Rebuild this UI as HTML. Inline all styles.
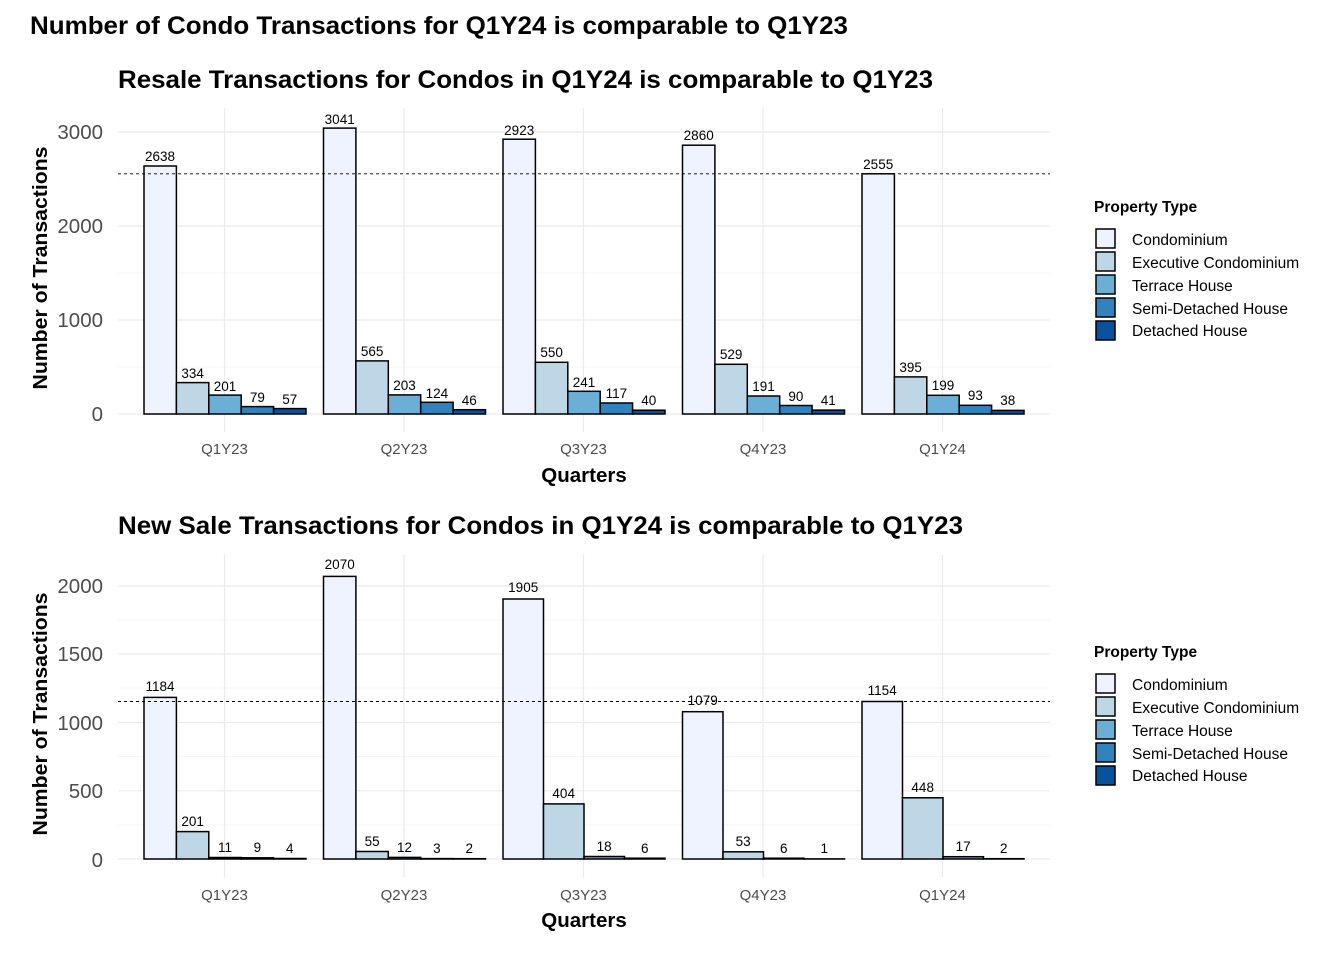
<!DOCTYPE html>
<html><head><meta charset="utf-8"><style>
body{margin:0;background:#fff}
svg{display:block;font-family:"Liberation Sans",Arial,sans-serif}
.g{stroke:#ebebeb;stroke-width:1.2}
.gm{stroke:#f3f3f3;stroke-width:0.8}
.b{stroke:#000;stroke-width:1.5}
.yl{font-size:20.5px;fill:#4d4d4d;text-anchor:end}
.xl{font-size:15px;fill:#4d4d4d;text-anchor:middle}
.v{font-size:13.5px;fill:#000;text-anchor:middle}
.t{font-size:25px;font-weight:bold}
.at{font-size:20.5px;font-weight:bold;text-anchor:middle}
.lg{font-size:15.5px;fill:#000}
</style></head><body>
<svg width="1344" height="960" viewBox="0 0 1344 960">
<text x="30" y="34" class="t" textLength="818" lengthAdjust="spacingAndGlyphs">Number of Condo Transactions for Q1Y24 is comparable to Q1Y23</text>

<!-- TOP PANEL -->
<text x="118" y="88" class="t" textLength="815" lengthAdjust="spacingAndGlyphs">Resale Transactions for Condos in Q1Y24 is comparable to Q1Y23</text>
<g>
<line class="gm" x1="118" x2="1050" y1="367" y2="367"/><line class="gm" x1="118" x2="1050" y1="273" y2="273"/><line class="gm" x1="118" x2="1050" y1="179" y2="179"/>
<line class="g" x1="118" x2="1050" y1="414" y2="414"/><line class="g" x1="118" x2="1050" y1="320" y2="320"/><line class="g" x1="118" x2="1050" y1="226" y2="226"/><line class="g" x1="118" x2="1050" y1="132" y2="132"/>
<line class="g" x1="224.5" x2="224.5" y1="108" y2="432"/><line class="g" x1="404" x2="404" y1="108" y2="432"/><line class="g" x1="583.5" x2="583.5" y1="108" y2="432"/><line class="g" x1="763" x2="763" y1="108" y2="432"/><line class="g" x1="942.5" x2="942.5" y1="108" y2="432"/>
</g>
<g class="b">
<rect x="144" y="166" width="32.4" height="248" fill="#EFF3FF"/><rect x="176.4" y="382.6" width="32.4" height="31.4" fill="#BDD7E7"/><rect x="208.8" y="395.1" width="32.4" height="18.9" fill="#6BAED6"/><rect x="241.2" y="406.6" width="32.4" height="7.4" fill="#3182BD"/><rect x="273.6" y="408.6" width="32.4" height="5.4" fill="#08519C"/>
<rect x="323.5" y="128.1" width="32.4" height="285.9" fill="#EFF3FF"/><rect x="355.9" y="360.9" width="32.4" height="53.1" fill="#BDD7E7"/><rect x="388.3" y="394.9" width="32.4" height="19.1" fill="#6BAED6"/><rect x="420.7" y="402.3" width="32.4" height="11.7" fill="#3182BD"/><rect x="453.1" y="409.7" width="32.4" height="4.3" fill="#08519C"/>
<rect x="503" y="139.2" width="32.4" height="274.8" fill="#EFF3FF"/><rect x="535.4" y="362.3" width="32.4" height="51.7" fill="#BDD7E7"/><rect x="567.8" y="391.3" width="32.4" height="22.7" fill="#6BAED6"/><rect x="600.2" y="403" width="32.4" height="11" fill="#3182BD"/><rect x="632.6" y="410.2" width="32.4" height="3.8" fill="#08519C"/>
<rect x="682.5" y="145.2" width="32.4" height="268.8" fill="#EFF3FF"/><rect x="714.9" y="364.3" width="32.4" height="49.7" fill="#BDD7E7"/><rect x="747.3" y="396" width="32.4" height="18" fill="#6BAED6"/><rect x="779.7" y="405.5" width="32.4" height="8.5" fill="#3182BD"/><rect x="812.1" y="410.1" width="32.4" height="3.9" fill="#08519C"/>
<rect x="862" y="173.8" width="32.4" height="240.2" fill="#EFF3FF"/><rect x="894.4" y="376.9" width="32.4" height="37.1" fill="#BDD7E7"/><rect x="926.8" y="395.3" width="32.4" height="18.7" fill="#6BAED6"/><rect x="959.2" y="405.3" width="32.4" height="8.7" fill="#3182BD"/><rect x="991.6" y="410.4" width="32.4" height="3.6" fill="#08519C"/>
</g>
<line x1="118" x2="1050" y1="173.8" y2="173.8" stroke="#000" stroke-width="0.9" stroke-dasharray="3,3"/>
<g class="v">
<text x="160" y="161">2638</text><text x="192.6" y="378">334</text><text x="225" y="391">201</text><text x="257.4" y="402">79</text><text x="289.8" y="404">57</text>
<text x="339.7" y="124">3041</text><text x="372.1" y="356">565</text><text x="404.5" y="390">203</text><text x="436.9" y="398">124</text><text x="469.3" y="405">46</text>
<text x="519.2" y="135">2923</text><text x="551.6" y="357">550</text><text x="584" y="387">241</text><text x="616.4" y="398">117</text><text x="648.8" y="405">40</text>
<text x="698.7" y="140">2860</text><text x="731.1" y="359">529</text><text x="763.5" y="391">191</text><text x="795.9" y="401">90</text><text x="828.3" y="405">41</text>
<text x="878.2" y="169">2555</text><text x="910.6" y="372">395</text><text x="943" y="390">199</text><text x="975.4" y="400">93</text><text x="1007.8" y="405">38</text>
</g>
<g class="yl"><text x="103" y="421">0</text><text x="103" y="327">1000</text><text x="103" y="233">2000</text><text x="103" y="139">3000</text></g>
<g class="xl"><text x="224.5" y="454">Q1Y23</text><text x="404" y="454">Q2Y23</text><text x="583.5" y="454">Q3Y23</text><text x="763" y="454">Q4Y23</text><text x="942.5" y="454">Q1Y24</text></g>
<text x="584" y="482" class="at">Quarters</text>
<text transform="translate(47,268) rotate(-90)" class="at" textLength="243" lengthAdjust="spacingAndGlyphs">Number of Transactions</text>

<!-- BOTTOM PANEL -->
<text x="118" y="534" class="t" textLength="845" lengthAdjust="spacingAndGlyphs">New Sale Transactions for Condos in Q1Y24 is comparable to Q1Y23</text>
<g>
<line class="gm" x1="118" x2="1050" y1="825" y2="825"/><line class="gm" x1="118" x2="1050" y1="756.6" y2="756.6"/><line class="gm" x1="118" x2="1050" y1="688" y2="688"/><line class="gm" x1="118" x2="1050" y1="620" y2="620"/>
<line class="g" x1="118" x2="1050" y1="859" y2="859"/><line class="g" x1="118" x2="1050" y1="790.8" y2="790.8"/><line class="g" x1="118" x2="1050" y1="722.5" y2="722.5"/><line class="g" x1="118" x2="1050" y1="654" y2="654"/><line class="g" x1="118" x2="1050" y1="586" y2="586"/>
<line class="g" x1="224.5" x2="224.5" y1="555" y2="877"/><line class="g" x1="404" x2="404" y1="555" y2="877"/><line class="g" x1="583.5" x2="583.5" y1="555" y2="877"/><line class="g" x1="763" x2="763" y1="555" y2="877"/><line class="g" x1="942.5" x2="942.5" y1="555" y2="877"/>
</g>
<g class="b">
<rect x="144" y="697.4" width="32.4" height="161.6" fill="#EFF3FF"/><rect x="176.4" y="831.6" width="32.4" height="27.4" fill="#BDD7E7"/><rect x="208.8" y="857.5" width="32.4" height="1.5" fill="#6BAED6"/><rect x="241.2" y="857.8" width="32.4" height="1.2" fill="#3182BD"/><rect x="273.6" y="858.5" width="32.4" height="0.5" fill="#08519C"/>
<rect x="323.5" y="576.4" width="32.4" height="282.6" fill="#EFF3FF"/><rect x="355.9" y="851.5" width="32.4" height="7.5" fill="#BDD7E7"/><rect x="388.3" y="857.4" width="32.4" height="1.6" fill="#6BAED6"/><rect x="420.7" y="858.6" width="32.4" height="0.4" fill="#3182BD"/><rect x="453.1" y="858.7" width="32.4" height="0.3" fill="#08519C"/>
<rect x="503" y="599" width="40.5" height="260" fill="#EFF3FF"/><rect x="543.5" y="803.9" width="40.5" height="55.1" fill="#BDD7E7"/><rect x="584" y="856.5" width="40.5" height="2.5" fill="#6BAED6"/><rect x="624.5" y="858.2" width="40.5" height="0.8" fill="#3182BD"/>
<rect x="682.5" y="711.7" width="40.5" height="147.3" fill="#EFF3FF"/><rect x="723" y="851.8" width="40.5" height="7.2" fill="#BDD7E7"/><rect x="763.5" y="858.2" width="40.5" height="0.8" fill="#6BAED6"/><rect x="804" y="858.9" width="40.5" height="0.1" fill="#3182BD"/>
<rect x="862" y="701.5" width="40.5" height="157.5" fill="#EFF3FF"/><rect x="902.5" y="797.8" width="40.5" height="61.2" fill="#BDD7E7"/><rect x="943" y="856.7" width="40.5" height="2.3" fill="#6BAED6"/><rect x="983.5" y="858.7" width="40.5" height="0.3" fill="#3182BD"/>
</g>
<line x1="118" x2="1050" y1="701.5" y2="701.5" stroke="#000" stroke-width="0.9" stroke-dasharray="3,3"/>
<g class="v">
<text x="160" y="691">1184</text><text x="192.6" y="826">201</text><text x="225" y="852">11</text><text x="257.4" y="852">9</text><text x="289.8" y="853">4</text>
<text x="339.7" y="569">2070</text><text x="372.1" y="846">55</text><text x="404.5" y="852">12</text><text x="436.9" y="853">3</text><text x="469.3" y="853">2</text>
<text x="523.2" y="592">1905</text><text x="563.7" y="798">404</text><text x="604.2" y="851">18</text><text x="644.7" y="853">6</text>
<text x="702.7" y="705">1079</text><text x="743.2" y="846">53</text><text x="783.7" y="853">6</text><text x="824.2" y="853">1</text>
<text x="882.2" y="695">1154</text><text x="922.7" y="792">448</text><text x="963.2" y="851">17</text><text x="1003.7" y="853">2</text>
</g>
<g class="yl"><text x="103" y="867">0</text><text x="103" y="798">500</text><text x="103" y="730">1000</text><text x="103" y="661">1500</text><text x="103" y="593">2000</text></g>
<g class="xl"><text x="224.5" y="900">Q1Y23</text><text x="404" y="900">Q2Y23</text><text x="583.5" y="900">Q3Y23</text><text x="763" y="900">Q4Y23</text><text x="942.5" y="900">Q1Y24</text></g>
<text x="584" y="927" class="at">Quarters</text>
<text transform="translate(47,714) rotate(-90)" class="at" textLength="243" lengthAdjust="spacingAndGlyphs">Number of Transactions</text>

<!-- LEGENDS -->
<g>
<text x="1094" y="212" style="font-size:15.5px;font-weight:bold">Property Type</text>
<g class="b"><rect x="1096" y="229" width="19" height="19" fill="#EFF3FF"/><rect x="1096" y="252" width="19" height="19" fill="#BDD7E7"/><rect x="1096" y="275" width="19" height="19" fill="#6BAED6"/><rect x="1096" y="298" width="19" height="19" fill="#3182BD"/><rect x="1096" y="321" width="19" height="19" fill="#08519C"/></g>
<g class="lg"><text x="1132" y="245">Condominium</text><text x="1132" y="268">Executive Condominium</text><text x="1132" y="291">Terrace House</text><text x="1132" y="314">Semi-Detached House</text><text x="1132" y="336">Detached House</text></g>
</g>
<g transform="translate(0,445)">
<text x="1094" y="212" style="font-size:15.5px;font-weight:bold">Property Type</text>
<g class="b"><rect x="1096" y="229" width="19" height="19" fill="#EFF3FF"/><rect x="1096" y="252" width="19" height="19" fill="#BDD7E7"/><rect x="1096" y="275" width="19" height="19" fill="#6BAED6"/><rect x="1096" y="298" width="19" height="19" fill="#3182BD"/><rect x="1096" y="321" width="19" height="19" fill="#08519C"/></g>
<g class="lg"><text x="1132" y="245">Condominium</text><text x="1132" y="268">Executive Condominium</text><text x="1132" y="291">Terrace House</text><text x="1132" y="314">Semi-Detached House</text><text x="1132" y="336">Detached House</text></g>
</g>
</svg>
</body></html>
